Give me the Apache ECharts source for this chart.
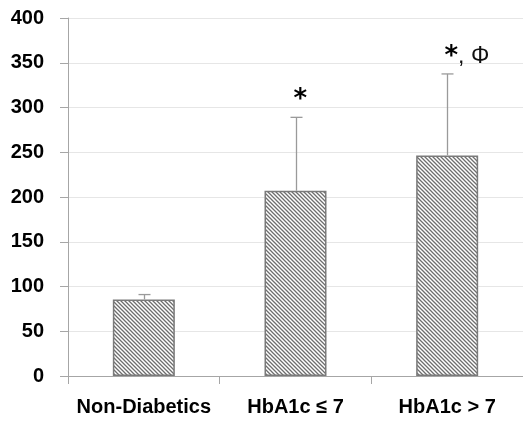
<!DOCTYPE html>
<html>
<head>
<meta charset="utf-8">
<script src="https://cdn.jsdelivr.net/npm/echarts@6/dist/echarts.min.js"></script>
<style>
  html, body { margin: 0; padding: 0; background: #fff; }
  #chart { width: 523px; height: 421px; }
</style>
</head>
<body>
<div id="chart"></div>
<script>
// Group labels, mean values, standard deviations and significance marks
const categories = ['Non-Diabetics', 'HbA1c \u2264 7', 'HbA1c > 7'];
const means = [85.5, 207, 246.5];
const sds = [5.5, 82, 91];
const marks = ['', '*', '*, \u03A6'];
const yTicks = { min: 0, max: 400, interval: 50 };

// Diagonal hatch tile used as the bar fill
function hatchTile() {
  const c = document.createElement('canvas');
  const s = 4;
  c.width = s; c.height = s;
  const g = c.getContext('2d');
  g.fillStyle = '#ffffff';
  g.fillRect(0, 0, s, s);
  g.strokeStyle = '#6e6e6e';
  g.lineWidth = 1.3;
  g.beginPath();
  g.moveTo(-1, -1); g.lineTo(s + 1, s + 1);
  g.moveTo(-1, s - 1); g.lineTo(1, s + 1);
  g.moveTo(s - 1, -1); g.lineTo(s + 1, 1);
  g.stroke();
  return c;
}

const font = '"Liberation Sans", Arial, sans-serif';
const chart = echarts.init(document.getElementById('chart'), null, { renderer: 'canvas' });

chart.setOption({
  animation: false,
  backgroundColor: '#ffffff',
  grid: { left: 68, right: 0, top: 18, bottom: 45, containLabel: false },
  xAxis: {
    type: 'category',
    data: categories,
    boundaryGap: true,
    axisLine: { lineStyle: { color: '#a6a6a6', width: 1 } },
    axisTick: { show: true, interval: 0, length: 8, alignWithLabel: false, lineStyle: { color: '#a6a6a6' } },
    axisLabel: { interval: 0, color: '#000', fontFamily: font, fontWeight: 'bold', fontSize: 20, margin: 21 }
  },
  yAxis: {
    type: 'value',
    min: yTicks.min, max: yTicks.max, interval: yTicks.interval,
    axisLine: { show: true, lineStyle: { color: '#a6a6a6', width: 1 } },
    axisTick: { show: true, length: 8, lineStyle: { color: '#a6a6a6' } },
    splitLine: { lineStyle: { color: '#e6e6e6', width: 1 } },
    axisLabel: { color: '#000', fontFamily: font, fontWeight: 'bold', fontSize: 20, margin: 24 }
  },
  series: [
    {
      type: 'bar',
      data: means,
      barWidth: 62,
      itemStyle: {
        color: { image: hatchTile(), repeat: 'repeat' },
        borderColor: '#7a7a7a',
        borderWidth: 1.5
      },
      z: 2
    },
    {
      type: 'custom',
      data: means.map((m, i) => [i, m, m + sds[i], marks[i]]),
      z: 3,
      renderItem: function (params, api) {
        const base = api.coord([api.value(0), api.value(1)]);
        const top = api.coord([api.value(0), api.value(2)]);
        const x = Math.round(base[0]) + 0.5;
        const cap = 6;
        const children = [
          { type: 'line', shape: { x1: x, y1: base[1], x2: x, y2: top[1] },
            style: { stroke: '#9a9a9a', lineWidth: 1.3 } },
          { type: 'line', shape: { x1: x - cap, y1: top[1], x2: x + cap, y2: top[1] },
            style: { stroke: '#9a9a9a', lineWidth: 1.3 } }
        ];
        const mark = marks[params.dataIndex];
        if (mark) {
          const star = mark.charAt(0);
          const rest = mark.slice(1);
          children.push({
            type: 'text',
            x: x - 3,
            y: top[1] - 17,
            style: {
              text: '{s|' + star + '}' + (rest ? '{p|' + rest + '}' : ''),
              align: 'left',
              verticalAlign: 'middle',
              rich: {
                s: { fontFamily: '"DejaVu Sans", sans-serif', fontWeight: 'bold', fontSize: 26, fill: '#000', verticalAlign: 'middle' },
                p: { fontFamily: font, fontSize: 23, fill: '#111', verticalAlign: 'middle' }
              }
            }
          });
        }
        return { type: 'group', children: children };
      }
    }
  ]
});
</script>
</body>
</html>
